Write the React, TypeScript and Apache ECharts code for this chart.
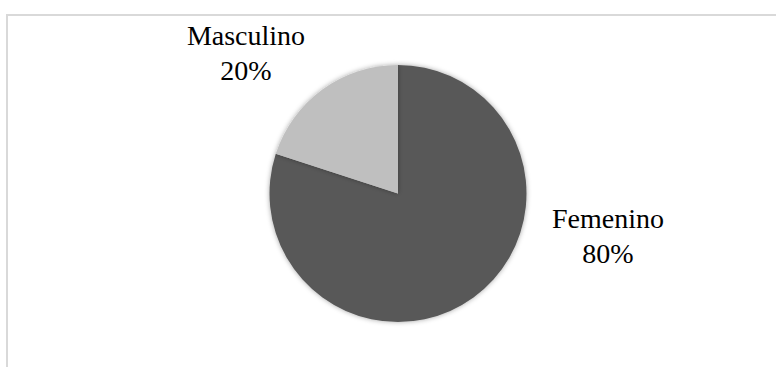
import React, { useEffect, useRef } from "react";
import * as echarts from "echarts";

const categories = ["Femenino", "Masculino"];
const values = [80, 20];
const colors = ["#595959", "#bfbfbf"];

const FONT = "Liberation Serif";

export default function App() {
  const ref = useRef<HTMLDivElement>(null);
  useEffect(() => {
    document.body.style.margin = "0";
    const chart = echarts.init(ref.current!, null, { renderer: "svg" });
    const labelPos = [
      { x: 608, y: 236 },
      { x: 246, y: 53 },
    ];
    chart.setOption({
      animation: false,
      backgroundColor: "#ffffff",
      textStyle: { fontFamily: FONT },
      graphic: [
        {
          type: "rect",
          shape: { x: 7, y: 15, width: 820, height: 420 },
          style: { fill: "none", stroke: "#d9d9d9", lineWidth: 2 },
          silent: true,
        },
      ],
      series: [
        {
          type: "pie",
          center: [398, 193.5],
          radius: 128.5,
          startAngle: 90,
          clockwise: true,
          data: categories.map((c, i) => ({
            name: c,
            value: values[i],
            itemStyle: { color: colors[i] },
          })),
          itemStyle: {
            shadowBlur: 5,
            shadowColor: "rgba(0,0,0,0.35)",
            borderWidth: 0,
          },
          label: {
            show: true,
            formatter: "{b}\n{d}%",
            fontFamily: FONT,
            fontSize: 28,
            lineHeight: 35,
            color: "#000000",
            align: "center",
          },
          labelLine: { show: false },
          labelLayout: (params: any) => ({
            x: labelPos[params.dataIndex].x,
            y: labelPos[params.dataIndex].y,
            align: "center",
            verticalAlign: "middle",
          }),
          emphasis: { disabled: true },
        },
      ],
    });
    return () => chart.dispose();
  }, []);
  return <div ref={ref} style={{ width: 776, height: 367 }} />;
}
